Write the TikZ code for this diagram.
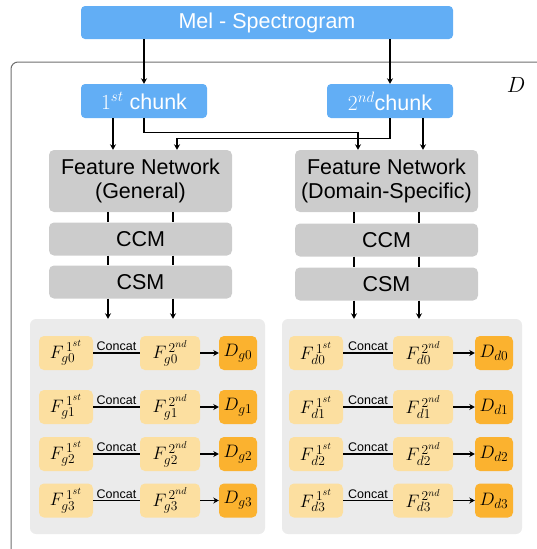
\RequirePackage{fix-cm}
\documentclass[tikz,border=0pt]{standalone}
\usepackage{fontspec}
\setmainfont{Liberation Sans}
\usetikzlibrary{arrows.meta,calc}
\DeclareMathSizes{18}{18}{13.5}{10}
\definecolor{melblue}{HTML}{62AEF5}
\definecolor{boxgray}{HTML}{CCCCCC}
\definecolor{panelgray}{HTML}{EBEBEB}
\definecolor{fyellow}{HTML}{FCDFA0}
\definecolor{dorange}{HTML}{FBB22F}
\definecolor{framegray}{HTML}{6E6E6E}
\begin{document}
\begin{tikzpicture}[x=1pt,y=-1pt,
  bluebox/.style={fill=melblue,rounded corners=4pt,text=white,inner sep=0pt,font=\fontsize{21.5}{24}\selectfont},
  graybox/.style={fill=boxgray,rounded corners=5pt,inner sep=0pt,minimum width=183pt,font=\fontsize{21.5}{24}\selectfont,align=center},
  panel/.style={fill=panelgray,rounded corners=6pt},
  fbox/.style={fill=fyellow,rounded corners=5pt,inner sep=0pt,minimum height=34pt,font=\fontsize{18}{21}\selectfont},
  dbox/.style={fill=dorange,rounded corners=5pt,inner sep=0pt,minimum height=34pt,minimum width=38pt,font=\fontsize{18}{21}\selectfont},
  arr/.style={line width=1.1pt,-{Stealth[length=5.5pt,width=6pt]}},
  ln/.style={line width=1.1pt},
  catlbl/.style={font=\fontsize{12.5}{14}\selectfont,inner sep=1.5pt}]
\useasboundingbox (0,0) rectangle (537,549);
% outer frame D
\draw[framegray,line width=1pt,rounded corners=7pt] (11,549) -- (11,62) -- (537,62);
\node (dlabel) at (516,85) {\fontsize{22}{24}\selectfont$D$};
% top
\node[bluebox,minimum width=372pt,minimum height=33pt] (mel) at (267,22.5) {Mel - Spectrogram};
\node[bluebox,minimum width=126pt,minimum height=34pt] (c1) at (144,101) {$1^{st}$ chunk};
\node[bluebox,minimum width=126pt,minimum height=34pt] (c2) at (390,101) {$2^{nd}$chunk};
% gray boxes
\node[graybox,minimum height=62pt] (fnL) at (140.5,181) {Feature Network\\(General)};
\node[graybox,minimum height=33pt] (ccmL) at (140.5,239) {CCM};
\node[graybox,minimum height=33pt] (csmL) at (140.5,282) {CSM};
\node[graybox,minimum height=62pt] (fnR) at (386.5,181) {Feature Network\\(Domain-Specific)};
\node[graybox,minimum height=33pt] (ccmR) at (386.5,240) {CCM};
\node[graybox,minimum height=33pt] (csmR) at (386.5,284) {CSM};
% panels
\node[panel,minimum width=235pt,minimum height=215pt] (pL) at (147.5,426.5) {};
\node[panel,minimum width=240pt,minimum height=215pt] (pR) at (402,426.5) {};
% arrows top
\draw[arr] (mel.south -| c1.north) -- (c1.north);
\draw[arr] (mel.south -| c2.north) -- (c2.north);
\draw[arr] ([xshift=-31pt]c1.south) -- ([xshift=-31pt]c1.south |- fnL.north);
\draw[arr] ([xshift=33pt]c2.south) -- ([xshift=33pt]c2.south |- fnR.north);
\draw[arr] (c1.south) -- ++(0,14) -| ([xshift=-28.5pt]fnR.north);
\draw[arr] (c2.south) -- ++(0,20) -| ([xshift=36.5pt]fnL.north);
% vertical links
\foreach \s/\a/\b/\c/\p in {-32.5/fnL/ccmL/csmL/pL, 32.5/fnL/ccmL/csmL/pL, -32.5/fnR/ccmR/csmR/pR, 32.5/fnR/ccmR/csmR/pR}{
  \draw[ln] ([xshift=\s pt]\a.south) -- ([xshift=\s pt]\a.south |- \b.north);
  \draw[ln] ([xshift=\s pt]\b.south) -- ([xshift=\s pt]\b.south |- \c.north);
  \draw[arr] ([xshift=\s pt]\c.south) -- ([xshift=\s pt]\c.south |- \p.north);
}
% rows
\foreach \i/\y in {0/353,1/407,2/454,3/500.5}{
  \node[fbox,minimum width=54pt] (fg1\i) at (66,\y) {$F_{g\i}^{\,1^{st}}$};
  \node[fbox,minimum width=60pt] (fg2\i) at (170,\y) {$F_{g\i}^{\,2^{nd}}$};
  \node[dbox] (dg\i) at (238,\y) {$D_{g\i}$};
  \draw[ln] (fg1\i.east) -- node[catlbl,above] {Concat} (fg2\i.west);
  \draw[arr] (fg2\i.east) -- (dg\i.west);
  \node[fbox,minimum width=54pt] (fd1\i) at (316,\y) {$F_{d\i}^{\,1^{st}}$};
  \node[fbox,minimum width=60pt] (fd2\i) at (423,\y) {$F_{d\i}^{\,2^{nd}}$};
  \node[dbox] (dd\i) at (494,\y) {$D_{d\i}$};
  \draw[ln] (fd1\i.east) -- node[catlbl,above] {Concat} (fd2\i.west);
  \draw[arr] (fd2\i.east) -- (dd\i.west);
}
\end{tikzpicture}
\end{document}
